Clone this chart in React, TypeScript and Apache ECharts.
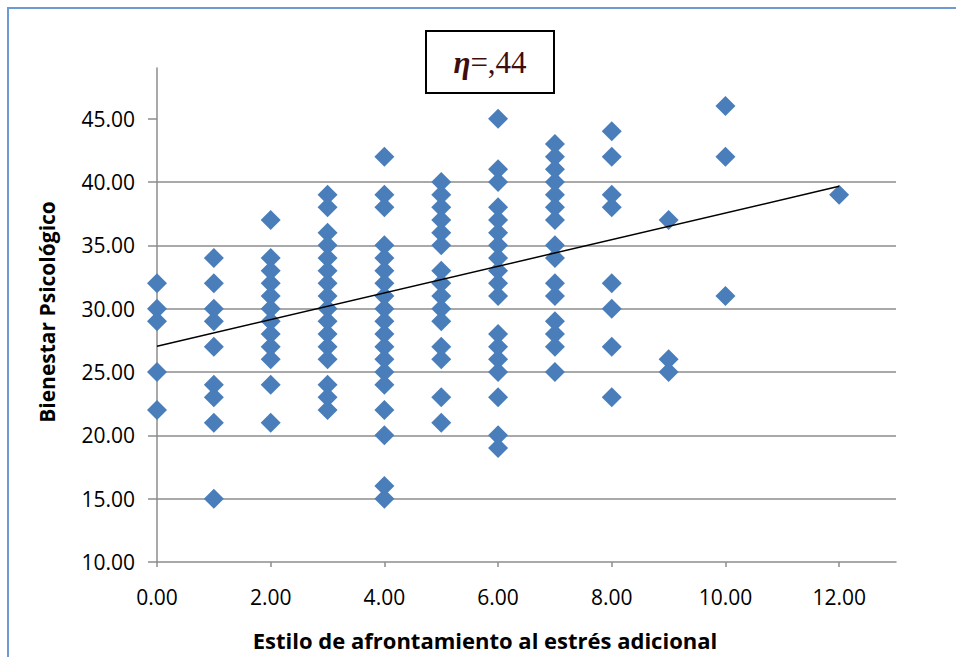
import React, { useEffect, useRef } from "react";
import * as echarts from "echarts";

// Afrontamiento (x) columns and the Bienestar Psicológico values (y) found at each
const afrontamientoValues = [0, 1, 2, 3, 4, 5, 6, 7, 8, 9, 10, 12];
const bienestarAt0 = [32, 30, 29, 25, 22];
const bienestarAt1 = [34, 32, 30, 29, 27, 24, 23, 21, 15];
const bienestarAt2 = [37, 34, 33, 32, 31, 30, 29, 28, 27, 26, 24, 21];
const bienestarAt3 = [39, 38, 36, 35, 34, 33, 32, 31, 30, 29, 28, 27, 26, 24, 23, 22];
const bienestarAt4 = [42, 39, 38, 35, 34, 33, 32, 31, 30, 29, 28, 27, 26, 25, 24, 22, 20, 16, 15];
const bienestarAt5 = [40, 39, 38, 37, 36, 35, 33, 32, 31, 30, 29, 27, 26, 23, 21];
const bienestarAt6 = [45, 41, 40, 38, 37, 36, 35, 34, 33, 32, 31, 28, 27, 26, 25, 23, 20, 19];
const bienestarAt7 = [43, 42, 41, 40, 39, 38, 37, 35, 34, 32, 31, 29, 28, 27, 25];
const bienestarAt8 = [44, 42, 39, 38, 32, 30, 27, 23];
const bienestarAt9 = [37, 26, 25];
const bienestarAt10 = [46, 42, 31];
const bienestarAt12 = [39];
const bienestarColumns = [
  bienestarAt0, bienestarAt1, bienestarAt2, bienestarAt3, bienestarAt4, bienestarAt5,
  bienestarAt6, bienestarAt7, bienestarAt8, bienestarAt9, bienestarAt10, bienestarAt12,
];

// Linear trend line end points
const trendX = [0, 12];
const trendY = [27.03, 39.66];

// Axis ticks
const xTicks = [0, 2, 4, 6, 8, 10, 12];
const yTicks = [10, 15, 20, 25, 30, 35, 40, 45];

const xTitle = "Estilo de afrontamiento al estrés adicional";
const yTitle = "Bienestar Psicológico";
const etaValue = "=,44";

const FONT = "Open Sans";

export default function App() {
  const ref = useRef<HTMLDivElement>(null);
  useEffect(() => {
    if (!ref.current) return;
    const chart = echarts.init(ref.current, null, { renderer: "svg" });
    const points: number[][] = [];
    afrontamientoValues.forEach((x, i) => {
      bienestarColumns[i].forEach((y) => points.push([x, y]));
    });
    const trend = trendX.map((x, i) => [x, trendY[i]]);
    const gridColor = "#8c8c8c";
    chart.setOption({
      animation: false,
      backgroundColor: "#ffffff",
      grid: { left: 157, right: 60, top: 68, bottom: 95, containLabel: false },
      xAxis: {
        type: "value",
        min: 0,
        max: 13,
        interval: 2,
        axisLine: { show: true, onZero: false, lineStyle: { color: gridColor, width: 1.5 } },
        axisTick: { show: true, inside: false, length: 5, customValues: xTicks, lineStyle: { color: gridColor, width: 1.5 } },
        axisLabel: {
          customValues: xTicks,
          margin: 24,
          color: "#000",
          fontFamily: FONT,
          fontSize: 21,
          formatter: (v: number) => v.toFixed(2),
        },
        splitLine: { show: false },
      },
      yAxis: {
        type: "value",
        min: 10,
        max: 49,
        interval: 5,
        axisLine: { show: true, onZero: false, lineStyle: { color: gridColor, width: 1.5 } },
        axisTick: { show: true, inside: false, length: 9, customValues: yTicks, lineStyle: { color: gridColor, width: 1.5 } },
        axisLabel: {
          customValues: yTicks,
          margin: 22,
          color: "#000",
          fontFamily: FONT,
          fontSize: 21,
          formatter: (v: number) => v.toFixed(2),
        },
        splitLine: { show: true, showMinLine: false, showMaxLine: false, lineStyle: { color: gridColor, width: 1.5 } },
      },
      series: [
        {
          type: "scatter",
          data: points,
          symbol: "diamond",
          symbolSize: [20, 20],
          itemStyle: { color: "#4a7ebb", opacity: 1 },
          z: 2,
        },
        {
          type: "line",
          data: trend,
          showSymbol: false,
          symbol: "none",
          lineStyle: { color: "#000", width: 1.5 },
          z: 3,
        },
      ],
      graphic: [
        {
          type: "rect",
          shape: { x: 8, y: 8, width: 1000, height: 1000 },
          style: { fill: "none", stroke: "#6b9bd2", lineWidth: 2 },
          z: 100,
          silent: true,
        },
        {
          type: "text",
          x: 485,
          y: 640,
          z: 101,
          style: {
            text: xTitle,
            align: "center",
            verticalAlign: "middle",
            fontFamily: FONT,
            fontWeight: "bold",
            fontSize: 22,
            fill: "#000",
          },
        },
        {
          type: "text",
          x: 47,
          y: 312,
          rotation: Math.PI / 2,
          z: 101,
          style: {
            text: yTitle,
            align: "center",
            verticalAlign: "middle",
            fontFamily: FONT,
            fontWeight: "bold",
            fontSize: 21,
            fill: "#000",
          },
        },
        {
          type: "rect",
          shape: { x: 426, y: 31, width: 128, height: 62 },
          style: { fill: "#fff", stroke: "#000", lineWidth: 2 },
          z: 100,
        },
        {
          type: "text",
          x: 490,
          y: 62,
          z: 101,
          style: {
            text: "{a|η}{b|" + etaValue + "}",
            align: "center",
            verticalAlign: "middle",
            rich: {
              a: { fontFamily: "Liberation Serif", fontWeight: "bold", fontStyle: "italic", fontSize: 31, fill: "#3f0d0d" },
              b: { fontFamily: "Liberation Serif", fontSize: 31, fill: "#3f0d0d" },
            },
          },
        },
      ],
    });
    return () => chart.dispose();
  }, []);
  return (
    <div
      ref={ref}
      style={{ position: "fixed", left: 0, top: 0, width: 956, height: 657 }}
    />
  );
}
